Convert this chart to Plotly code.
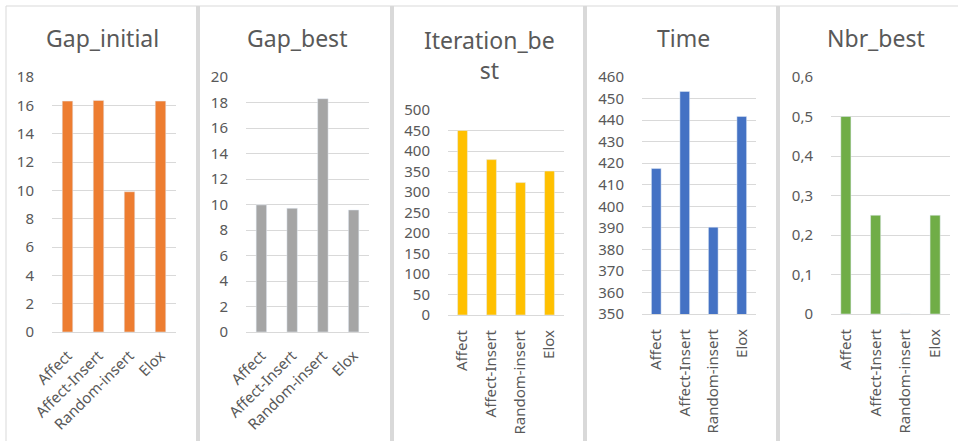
import plotly.graph_objects as go

methods = ['Affect', 'Affect-Insert', 'Random-insert', 'Elox']

gap_initial = [16.3, 16.35, 9.9, 16.3]
gap_best = [9.97, 9.7, 18.3, 9.57]
iteration_best = [450, 379, 323, 351]
time_values = [417.5, 453.3, 390.3, 441.7]
nbr_best = [0.5, 0.25, 0, 0.25]

titles = ['Gap_initial', 'Gap_best', 'Iteration_be<br>st', 'Time', 'Nbr_best']
colors = ['#ed7d31', '#a5a5a5', '#ffc000', '#4472c4', '#70ad47']
series = [gap_initial, gap_best, iteration_best, time_values, nbr_best]

W, H = 958, 441
# pixel boxes of each plot area: x0, x1, ytop, ybottom
boxes = [(52, 176, 77, 332), (246, 369, 77, 332), (448, 564, 110, 315),
         (642, 756, 77, 314), (831, 950, 77, 314)]
y_ranges = [(0, 18, 2), (0, 20, 2), (0, 500, 50), (350, 460, 10), (0, 0.6, 0.1)]
x_angles = [-45, -45, -90, -90, -90]
title_pos = [(102, 38), (297, 38), (489, 55), (683, 38), (876, 38)]

font = 'Noto Sans'
grey = '#595959'
grid = '#d9d9d9'

fig = go.Figure()
for i, vals in enumerate(series):
    n = '' if i == 0 else str(i + 1)
    fig.add_trace(go.Bar(x=methods, y=vals, marker_color=colors[i],
                         xaxis='x' + n, yaxis='y' + n, showlegend=False))
    x0, x1, yt, yb = boxes[i]
    lo, hi, step = y_ranges[i]
    fig.layout['xaxis' + n] = dict(
        domain=[x0 / W, x1 / W], anchor='y' + n, showgrid=False, automargin=False,
        showline=True, linecolor=grid, tickangle=x_angles[i],
        ticks='outside', ticklen=8, tickcolor='rgba(0,0,0,0)',
        tickfont=dict(family=font, size=15, color=grey), fixedrange=True)
    fig.layout['yaxis' + n] = dict(
        domain=[1 - yb / H, 1 - yt / H], anchor='x' + n, automargin=False,
        range=[lo, hi], dtick=step, tick0=lo, showgrid=True, gridcolor=grid,
        zeroline=True, zerolinecolor=grid, zerolinewidth=1,
        ticks='outside', ticklen=14, tickcolor='rgba(0,0,0,0)',
        tickfont=dict(family=font, size=15, color=grey), fixedrange=True)
    tx, ty = title_pos[i]
    fig.add_annotation(text=titles[i], x=tx / W, y=1 - ty / H, xref='paper', yref='paper',
                       showarrow=False, xanchor='center', yanchor='middle',
                       font=dict(family=font, size=23, color=grey))

# panel frames
fig.add_shape(type='line', xref='paper', yref='paper', x0=6 / W, x1=1, y0=1 - 6 / H, y1=1 - 6 / H,
              line=dict(color=grid, width=1))
fig.add_shape(type='line', xref='paper', yref='paper', x0=6 / W, x1=6 / W, y0=0, y1=1 - 6 / H,
              line=dict(color=grid, width=1))
for sx in [196, 390, 583, 776]:
    fig.add_shape(type='rect', xref='paper', yref='paper', x0=sx / W, x1=(sx + 4) / W,
                  y0=0, y1=1 - 6 / H, line=dict(width=0), fillcolor=grid)

fig.update_layout(
    width=W, height=H, margin=dict(l=0, r=0, t=0, b=0),
    paper_bgcolor='white', plot_bgcolor='white',
    bargap=0.66, separators=', ',
)
fig.write_html('out.html', config={'displayModeBar': False},
               post_script="document.body.style.margin = '0';")
